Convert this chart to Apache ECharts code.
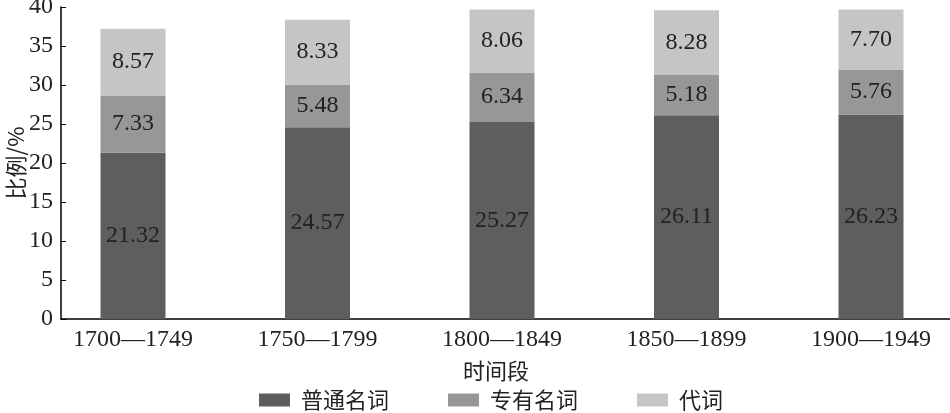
<!DOCTYPE html>
<html><head><meta charset="utf-8">
<script src="https://cdn.jsdelivr.net/npm/echarts@6/dist/echarts.min.js"></script>
<style>html,body{margin:0;padding:0;background:#fff}#c{width:950px;height:413px}</style>
</head><body><div id="c"></div>
<script>
const categories = ['1700—1749','1750—1799','1800—1849','1850—1899','1900—1949'];
const common = [21.32, 24.57, 25.27, 26.11, 26.23];
const proper = [7.33, 5.48, 6.34, 5.18, 5.76];
const pronoun = [8.57, 8.33, 8.06, 8.28, 7.70];
const seriesNames = ['普通名词','专有名词','代词'];
const yTicks = [0,5,10,15,20,25,30,35,40];

const serif = '"Liberation Serif","DejaVu Serif",serif';
const cjk = '"Noto Sans CJK SC","Noto Sans",sans-serif';
const colors = ['#5e5e5e','#979797','#c5c5c5'];
const chart = echarts.init(document.getElementById('c'));
const lbl = {show:true, position:'inside', color:'#222', fontFamily:serif, fontSize:24,
  formatter: p => p.value.toFixed(2)};
chart.setOption({
  animation:false,
  title:{text:'时间段', left:491, top:355, textAlign:'center',
    textStyle:{fontFamily:cjk, fontSize:22, fontWeight:'normal', color:'#222'}},
  grid:[
    {left:61, right:0, top:7, bottom:94, outerBoundsMode:'none'},
    {left:40.75, width:922.5, top:7, bottom:94, outerBoundsMode:'none'}
  ],
  xAxis:[
    {type:'category', gridIndex:0, data:[''], axisLine:{lineStyle:{color:'#000',width:1.5}},
     axisTick:{show:false}, axisLabel:{show:false}},
    {type:'category', gridIndex:1, data:categories, axisLine:{show:false}, axisTick:{show:false},
     axisLabel:{fontFamily:serif, fontSize:24, color:'#222', margin:9}}
  ],
  yAxis:[
    {type:'value', gridIndex:0, min:0, max:40, interval:5,
     axisLine:{show:true, lineStyle:{color:'#000',width:1.5}},
     axisTick:{show:true, inside:true, length:5, lineStyle:{color:'#000'}},
     splitLine:{show:false},
     axisLabel:{fontFamily:serif, fontSize:24, color:'#222', margin:8, formatter:v=>yTicks.includes(v)?String(v):''},
     name:'比例/%', nameLocation:'middle', nameGap:34, nameMoveOverlap:false,
     nameTextStyle:{fontFamily:cjk,fontSize:22,color:'#222'}},
    {type:'value', gridIndex:1, min:0, max:40, show:false}
  ],
  legend:{bottom:-3, left:254, itemWidth:31, itemHeight:13, itemGap:59, icon:'rect',
    textStyle:{fontFamily:cjk, fontSize:22, color:'#222', padding:[0,0,0,6]}, data:seriesNames},
  series:[
    {name:seriesNames[0], type:'bar', stack:'s', xAxisIndex:1, yAxisIndex:1, barWidth:65, data:common, itemStyle:{color:colors[0]}, label:lbl},
    {name:seriesNames[1], type:'bar', stack:'s', xAxisIndex:1, yAxisIndex:1, barWidth:65, data:proper, itemStyle:{color:colors[1]}, label:lbl},
    {name:seriesNames[2], type:'bar', stack:'s', xAxisIndex:1, yAxisIndex:1, barWidth:65, data:pronoun, itemStyle:{color:colors[2]}, label:lbl}
  ]
});
</script></body></html>
